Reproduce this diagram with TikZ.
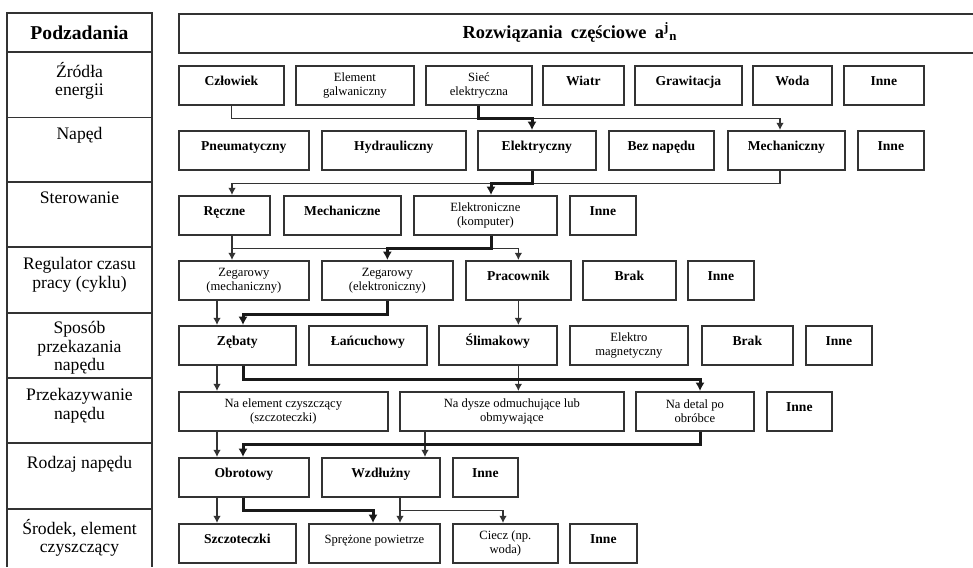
\documentclass[tikz,border=0pt]{standalone}
\usepackage{fontspec}
\setmainfont{Liberation Serif}
\usetikzlibrary{arrows.meta}

\tikzset{
  opt/.style={draw=black!80, line width=0.85pt, fill=white, minimum height=19.5pt,
    inner sep=1pt, anchor=north west},
  jed/.style={opt, font=\fontsize{6.8}{7.5}\selectfont\bfseries, text height=5pt, text depth=5pt},
  jedm/.style={opt, font=\fontsize{6.3}{7}\selectfont, text height=5pt, text depth=5pt},
  dwa/.style={opt, font=\fontsize{6.3}{7}\selectfont, align=center},
  szer/.style={minimum width=#1*0.5pt},
  rubryka/.style={font=\fontsize{8.8}{9.4}\selectfont, align=center, anchor=north},
  siatka/.style={draw=black!80, line width=0.85pt},
  cienka/.style={draw=black!80, line width=0.65pt, -{Latex[length=3.6pt,width=3.8pt]}},
  gruba/.style={draw=black!90, line width=1.5pt, -{Latex[length=4.2pt,width=4.6pt]}}
}

\begin{document}
\begin{tikzpicture}[x=0.5pt, y=-0.5pt]
  \useasboundingbox (0,0) rectangle (973,567);
  \fill[white] (0,0) rectangle (973,567);

  % kolumna podzadan
  \draw[siatka] (7,567) -- (7,13) -- (152,13) -- (152,567);
  \foreach \y in {52,117.5,182,247,313,378,443,509}
    \draw[siatka] (7,\y) -- (152,\y);
  \node[font=\fontsize{9.8}{11}\selectfont\bfseries] (podz) at (79.5,32.5) {Podzadania};
  \node[rubryka] (zrodla) at (79.5,55) {Źródła\\energii};
  \node[rubryka] (naped) at (79.5,120) {Napęd};
  \node[rubryka] (sterow) at (79.5,185) {Sterowanie};
  \node[rubryka] (regul) at (79.5,250) {Regulator czasu\\pracy (cyklu)};
  \node[rubryka] (sposob) at (79.5,314) {Sposób\\przekazania\\napędu};
  \node[rubryka] (przek) at (79.5,381) {Przekazywanie\\napędu};
  \node[rubryka] (rodzaj) at (79.5,449) {Rodzaj napędu};
  \node[rubryka] (srodek) at (79.5,512) {Środek, element\\czyszczący};

  % naglowek
  \node[draw=black!80, line width=0.85pt, anchor=north west, szer=830, minimum height=19.5pt] (rozw) at (178,13) {};
  \node[font=\fontsize{9.2}{11}\selectfont\bfseries] (rozwtekst) at (570,32.5)
    {Rozwiązania\hspace{0.45em}częściowe\hspace{0.45em}a\textsuperscript{j}\textsubscript{n}};

  % zrodla energii
  \node[jed, szer=105] (czlowiek) at (178,65) {Człowiek};
  \node[dwa, szer=118] (galw) at (295,65) {Element\\galwaniczny};
  \node[dwa, szer=106] (siec) at (425,65) {Sieć\\elektryczna};
  \node[jed, szer=81] (wiatr) at (542,65) {Wiatr};
  \node[jed, szer=107] (grawit) at (634,65) {Grawitacja};
  \node[jed, szer=79] (woda) at (752,65) {Woda};
  \node[jed, szer=80] (inne1) at (843,65) {Inne};

  % naped
  \node[jed, szer=130] (pneum) at (178,130) {Pneumatyczny};
  \node[jed, szer=144] (hydr) at (321,130) {Hydrauliczny};
  \node[jed, szer=118] (elektr) at (477,130) {Elektryczny};
  \node[jed, szer=105] (beznap) at (608,130) {Bez napędu};
  \node[jed, szer=117] (mechan) at (727,130) {Mechaniczny};
  \node[jed, szer=66] (inne2) at (857,130) {Inne};

  % sterowanie
  \node[jed, szer=91] (reczne) at (178,195) {Ręczne};
  \node[jed, szer=117] (mechst) at (283,195) {Mechaniczne};
  \node[dwa, szer=143] (elektron) at (413,195) {Elektroniczne\\(komputer)};
  \node[jed, szer=66] (inne3) at (569,195) {Inne};

  % regulator czasu pracy
  \node[dwa, szer=130] (zegmech) at (178,260) {Zegarowy\\(mechaniczny)};
  \node[dwa, szer=131] (zegel) at (321,260) {Zegarowy\\(elektroniczny)};
  \node[jed, szer=105] (pracownik) at (465,260) {Pracownik};
  \node[jed, szer=93] (brak4) at (582,260) {Brak};
  \node[jed, szer=66] (inne4) at (687,260) {Inne};

  % sposob przekazania napedu
  \node[jed, szer=117] (zebaty) at (178,325) {Zębaty};
  \node[jed, szer=118] (lancuch) at (308,325) {Łańcuchowy};
  \node[jed, szer=118] (slimak) at (438,325) {Ślimakowy};
  \node[dwa, szer=118] (elmag) at (569,325) {Elektro\\magnetyczny};
  \node[jed, szer=91] (brak5) at (701,325) {Brak};
  \node[jed, szer=66] (inne5) at (805,325) {Inne};

  % przekazywanie napedu
  \node[dwa, szer=209] (naelem) at (178,391) {Na element czyszczący\\(szczoteczki)};
  \node[dwa, szer=224] (nadysze) at (399,391) {Na dysze odmuchujące lub\\obmywające};
  \node[dwa, szer=118] (nadetal) at (635,391) {Na detal po\\obróbce};
  \node[jed, szer=65] (inne6) at (766,391) {Inne};

  % rodzaj napedu
  \node[jed, szer=130] (obrot) at (178,457) {Obrotowy};
  \node[jed, szer=118] (wzdluz) at (321,457) {Wzdłużny};
  \node[jed, szer=65] (inne7) at (452,457) {Inne};

  % srodek czyszczacy
  \node[jed, szer=117] (szczot) at (178,523) {Szczoteczki};
  \node[jedm, szer=131] (sprez) at (308,523) {Sprężone powietrze};
  \node[dwa, szer=105] (ciecz) at (452,523) {Ciecz (np.\\woda)};
  \node[jed, szer=67] (inne8) at (569,523) {Inne};

  % tory pionowe
  \coordinate (l1) at (217,0);
  \coordinate (l2) at (232,0);
  \coordinate (l3) at (243,0);
  \coordinate (l4) at (373,0);
  \coordinate (l5) at (400,0);
  \coordinate (l6) at (425,0);
  \coordinate (l7) at (491,0);
  \coordinate (l8) at (503,0);
  \coordinate (l10) at (532,0);
  \coordinate (l11) at (700,0);
  \coordinate (l12) at (780,0);

  \draw[cienka] (czlowiek.south) -- ++(0,12.5) -| (mechan.north -| l12);
  \draw[cienka] (mechan.south -| l12) -- ++(0,13) -| (reczne.north -| l2);
  \draw[cienka] (reczne.south -| l2) -- (zegmech.north -| l2);
  \draw[cienka] (reczne.south -| l2) -- ++(0,13) -| (pracownik.north);
  \draw[cienka] (zegmech.south -| l1) -- (zebaty.north -| l1);
  \draw[cienka] (pracownik.south) -- (slimak.north -| pracownik.south);
  \draw[cienka] (zebaty.south -| l1) -- (naelem.north -| l1);
  \draw[cienka] (slimak.south -| pracownik.south) -- (nadysze.north -| pracownik.south);
  \draw[cienka] (naelem.south -| l1) -- (obrot.north -| l1);
  \draw[cienka] (nadysze.south -| l6) -- (wzdluz.north -| l6);
  \draw[cienka] (obrot.south -| l1) -- (szczot.north -| l1);
  \draw[cienka] (wzdluz.south -| l5) -- (sprez.north -| l5);
  \draw[cienka] (wzdluz.south -| l5) -- ++(0,13) -| (ciecz.north -| l8);

  \draw[gruba] (siec.south) -- ++(0,12.5) -| (elektr.north -| l10);
  \draw[gruba] (elektr.south -| l10) -- ++(0,13) -| (elektron.north -| l7);
  \draw[gruba] (elektron.south -| l7) -- ++(0,13) -| (zegel.north);
  \draw[gruba] (zegel.south) -- ++(0,14) -| (zebaty.north -| l3);
  \draw[gruba] (zebaty.south -| l3) -- ++(0,14) -| (nadetal.north -| l11);
  \draw[gruba] (nadetal.south -| l11) -- ++(0,13) -| (obrot.north -| l3);
  \draw[gruba] (obrot.south -| l3) -- ++(0,13) -| (sprez.north -| l4);
\end{tikzpicture}
\end{document}
